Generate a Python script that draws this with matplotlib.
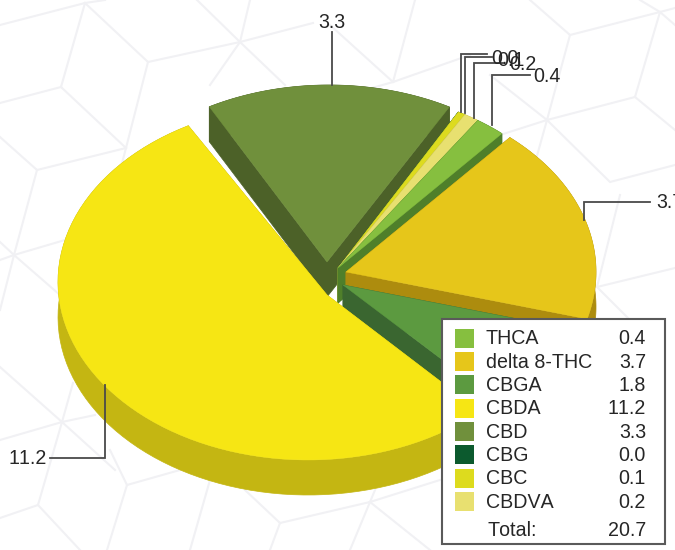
import numpy as np
import matplotlib
matplotlib.use('Agg')
import matplotlib.pyplot as plt
from matplotlib.patches import Polygon, Rectangle

plt.rcParams['font.family'] = ['Liberation Sans', 'DejaVu Sans']
plt.rcParams['text.kerning_factor'] = 6

# Pie values, clockwise from the start angle
names = ['THCA', 'delta 8-THC', 'CBGA', 'CBDA', 'CBD', 'CBG', 'CBC', 'CBDVA']
values = [0.4, 3.7, 1.8, 11.2, 3.3, 0.0, 0.1, 0.2]
colors = ['#86BF3F', '#E6C61A', '#5C9A40', '#F6E614', '#70903C', '#0C5A2E', '#DDDB1E', '#E8E070']
walls = ['#4F7F2A', '#AD8C0E', '#3A6630', '#C4B612', '#4C6128', '#0C5A2E', '#8C9A20', '#B8B040']

# Layout of the pie in pixels
start_angle = 34
rx, ry = 250, 178
depth = 35
# ellipse centre and the tip of each slice, these differ only for the big one
centers = [(338, 268), (346, 272), (343, 285), (308, 282), (329, 263), (338, 268), (338, 268), (338, 268)]
tips = [(338, 268), (346, 272), (343, 285), (327, 295), (327, 262), (338, 268), (338, 268), (338, 268)]
draw_order = [4, 5, 6, 7, 0, 1, 2, 3]

# Hexagon pattern behind the chart
bg_lines = [
    [(0, 25), (85, 3), (105, 0)], [(85, 3), (148, 62), (240, 42), (313, 23)],
    [(85, 3), (61, 87), (126, 148), (148, 62)], [(61, 87), (0, 103)],
    [(126, 148), (37, 170), (0, 137)], [(126, 148), (115, 190)],
    [(37, 170), (14, 255), (0, 310)], [(0, 260), (14, 255), (65, 240)],
    [(0, 242), (14, 255), (60, 295)], [(197, 0), (240, 42), (285, 85)],
    [(250, 0), (240, 42), (210, 85)], [(415, 0), (393, 82), (470, 55)],
    [(330, 25), (393, 82)], [(393, 82), (330, 100)],
    [(530, 0), (570, 35), (660, 12), (675, 8)], [(640, 0), (660, 12), (675, 25)],
    [(570, 35), (547, 120), (635, 97), (660, 12)], [(635, 97), (675, 130)],
    [(547, 120), (500, 135)], [(490, 75), (547, 120), (610, 182), (675, 165)],
    [(547, 120), (533, 170)], [(620, 195), (597, 287), (675, 268)], [(597, 287), (630, 320)],
    [(0, 440), (62, 422), (95, 415)], [(0, 367), (62, 422), (115, 470)],
    [(73, 383), (62, 422), (38, 505), (0, 518)], [(38, 505), (80, 550)],
    [(110, 450), (127, 485), (180, 470)], [(127, 485), (107, 550)],
    [(210, 480), (190, 550)], [(245, 490), (280, 523), (370, 502), (440, 480)],
    [(280, 523), (270, 550)], [(375, 490), (370, 502), (350, 550)], [(370, 502), (430, 550)],
]

fig = plt.figure(figsize=(6.75, 5.5), dpi=100)
ax = fig.add_axes([0, 0, 1, 1])
ax.set_xlim(0, 675)
ax.set_ylim(550, 0)
ax.axis('off')

for line in bg_lines:
    xs, ys = zip(*line)
    ax.plot(xs, ys, color='#F1F1F4', lw=1.5, zorder=1)


def slice_outline(i, a0, a1):
    t = np.radians(np.linspace(a0, a1, 80))
    cx, cy = centers[i]
    return np.column_stack([cx + rx * np.sin(t), cy - ry * np.cos(t)])


# Sweep the angles, then paint back to front
edges = start_angle + 360 * np.cumsum([0] + values) / sum(values)
down = np.array([0, depth])
z = 2
for i in draw_order:
    arc = slice_outline(i, edges[i], edges[i + 1])
    tip = np.array(tips[i], dtype=float)
    for end in (arc[0], arc[-1]):
        quad = [tip, end, end + down, tip + down]
        ax.add_patch(Polygon(quad, fc=walls[i], ec=walls[i], lw=0.5, zorder=z))
    band = np.vstack([arc, (arc + down)[::-1]])
    ax.add_patch(Polygon(band, fc=walls[i], ec=walls[i], lw=0.5, zorder=z))
    ax.add_patch(Polygon(np.vstack([tip, arc]), fc=colors[i], ec=colors[i], lw=0.3, zorder=z + 0.5))
    z += 1

# Leader lines and value labels
lead_color = '#4A4A4A'
label_size = 14.1
text_color = '#262626'
leaders = {
    0: ([492, 492, 530], [125, 75, 75], 533, 76, 'left'),
    1: ([584, 584, 650], [220, 202, 202], 656, 203, 'left'),
    3: ([105, 105, 50], [385, 458, 458], 47, 459, 'right'),
    4: ([332, 332], [85, 32], 332, 22, 'center'),
    5: ([461, 461, 487], [112, 54, 54], 491, 59, 'left'),
    6: ([465, 465, 492], [113, 57, 57], 497, 60, 'left'),
    7: ([474, 474, 503], [118, 63, 63], 509, 64, 'left'),
}
for i, (lx, ly, tx, ty, ha) in leaders.items():
    ax.plot(lx, ly, color=lead_color, lw=1.3, zorder=20, solid_joinstyle='miter')
    ax.text(tx, ty, '%.1f' % values[i], ha=ha, va='center', fontsize=label_size,
            color=text_color, zorder=21)

# Legend box
ax.add_patch(Rectangle((442, 319), 223, 225, fc='white', ec='#5A5A5A', lw=1.5, zorder=30))
row_y = [338, 361, 384.5, 408, 431, 454.5, 478, 501]
for i, y in enumerate(row_y):
    ax.add_patch(Rectangle((455, y - 9.5), 19, 19, fc=colors[i], ec='none', zorder=31))
    ax.text(486, y + 1, names[i], ha='left', va='center', fontsize=label_size, color=text_color, zorder=31)
    ax.text(646, y + 1, '%.1f' % values[i], ha='right', va='center', fontsize=label_size,
            color=text_color, zorder=31)
ax.text(487, 531, 'Total:', ha='left', va='center', fontsize=label_size, color=text_color, zorder=31)
ax.text(646, 531, '%.1f' % sum(values), ha='right', va='center', fontsize=label_size,
        color=text_color, zorder=31)

fig.savefig('out.png', dpi=100)
